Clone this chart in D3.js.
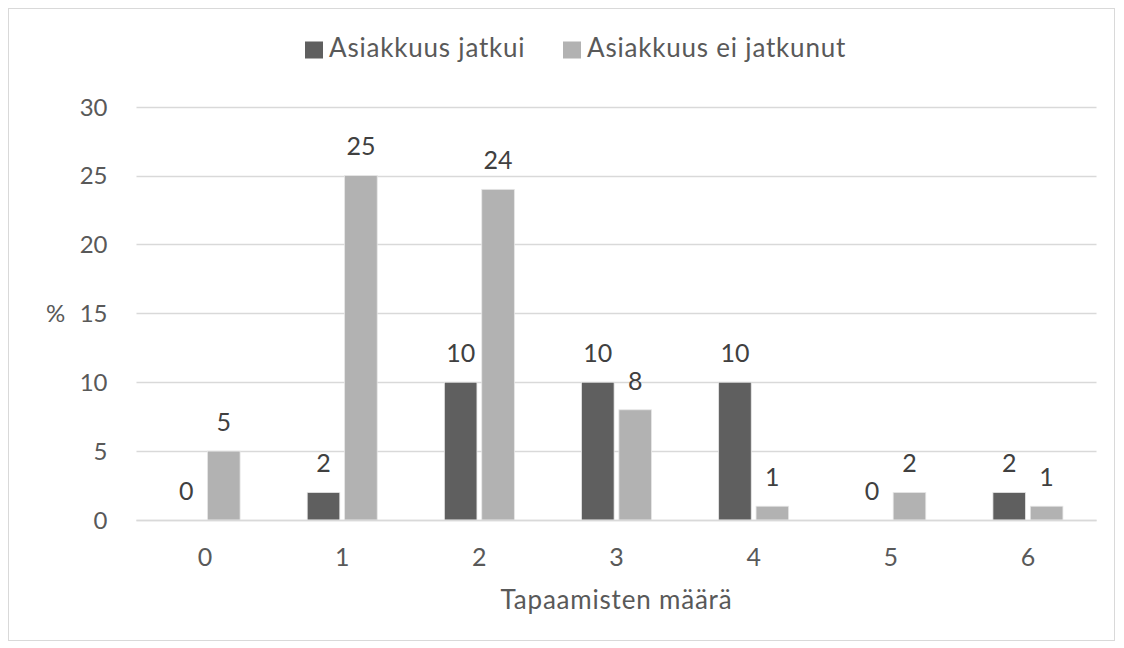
<!DOCTYPE html>
<html>
<head>
<meta charset="utf-8">
<script src="https://cdn.jsdelivr.net/npm/d3@7"></script>
<style>
  body { margin: 0; background: #fff; }
  text { font-family: Lato, "Open Sans", sans-serif; fill: #595959; }
</style>
</head>
<body>
<svg id="chart"></svg>
<script>
// data
var categories = ["0", "1", "2", "3", "4", "5", "6"];
var jatkui = [0, 2, 10, 10, 10, 0, 2];
var eiJatkunut = [5, 25, 24, 8, 1, 2, 1];
var seriesNames = ["Asiakkuus jatkui", "Asiakkuus ei jatkunut"];
var yTicks = [0, 5, 10, 15, 20, 25, 30];

var width = 1124, height = 648;
var margin = {left: 136.5, right: 1124 - 1096.5, top: 106.7, bottom: 648 - 520};
var colors = ["#5f5f5f", "#b2b2b2"];

var svg = d3.select("#chart")
    .attr("width", width)
    .attr("height", height);

// outer frame
svg.append("rect")
    .attr("x", 8.5).attr("y", 8.5)
    .attr("width", 1106).attr("height", 632)
    .attr("fill", "none")
    .attr("stroke", "#d9d9d9");

var x = d3.scaleBand()
    .domain(categories)
    .range([margin.left, width - margin.right]);

var y = d3.scaleLinear()
    .domain([0, 30])
    .range([height - margin.bottom, margin.top]);

var barW = 30.5, gap = 9;
var inner = d3.scaleBand()
    .domain([0, 1])
    .range([-(barW + gap / 2), barW + gap / 2])
    .paddingInner(gap / (2 * barW + gap));

// gridlines
svg.append("g")
    .selectAll("line")
    .data(yTicks).enter()
    .append("line")
    .attr("x1", margin.left)
    .attr("x2", width - margin.right)
    .attr("y1", function(d) { return Math.round(y(d)) + 0.5; })
    .attr("y2", function(d) { return Math.round(y(d)) + 0.5; })
    .attr("stroke", "#d9d9d9")
    .attr("stroke-width", 1.5);

// y axis labels
var yAxis = d3.axisLeft(y).tickValues(yTicks).tickSize(0).tickPadding(0);
var yg = svg.append("g")
    .attr("transform", "translate(" + (margin.left - 29) + ",0)")
    .call(yAxis);
yg.select(".domain").remove();
yg.selectAll("text")
    .style("font-size", "24px")
    .attr("text-anchor", "end")
    .attr("dy", "0.35em");

// x axis labels
var xAxis = d3.axisBottom(x).tickSize(0).tickPadding(0);
var xg = svg.append("g")
    .attr("transform", "translate(0," + (height - margin.bottom + 37) + ")")
    .call(xAxis);
xg.select(".domain").remove();
xg.selectAll("text")
    .style("font-size", "25px")
    .attr("dy", "0.35em")
    .attr("y", 0);

var series = [jatkui, eiJatkunut];

series.forEach(function(vals, s) {
  var grp = svg.append("g");
  grp.selectAll("rect")
    .data(vals).enter()
    .append("rect")
    .attr("x", function(d, i) { return x(categories[i]) + x.bandwidth() / 2 + inner(s); })
    .attr("y", function(d) { return y(d); })
    .attr("width", inner.bandwidth())
    .attr("height", function(d) { return y(0) - y(d); })
    .attr("fill", colors[s])
    .attr("stroke", function(d) { return d > 0 ? "#e6e6e6" : "none"; })
    .attr("stroke-width", 0.8);

  grp.selectAll("text")
    .data(vals).enter()
    .append("text")
    .attr("x", function(d, i) { return x(categories[i]) + x.bandwidth() / 2 + inner(s) + inner.bandwidth() / 2; })
    .attr("y", function(d) { return y(d) - 29; })
    .attr("dy", "0.35em")
    .attr("text-anchor", "middle")
    .style("font-size", "25px")
    .style("fill", "#404040")
    .text(function(d) { return d; });
});

// axis line on top of bars
svg.append("line")
    .attr("x1", margin.left)
    .attr("x2", width - margin.right)
    .attr("y1", Math.round(y(0)) + 0.5)
    .attr("y2", Math.round(y(0)) + 0.5)
    .attr("stroke", "#d9d9d9")
    .attr("stroke-width", 1.5);

// "%" axis title
svg.append("text")
    .attr("x", 55.5).attr("y", y(15))
    .attr("dy", "0.35em")
    .attr("text-anchor", "middle")
    .style("font-size", "24px")
    .text("%");

// x axis title
svg.append("text")
    .attr("x", (margin.left + width - margin.right) / 2)
    .attr("y", 609)
    .attr("text-anchor", "middle")
    .style("font-size", "26px")
    .style("letter-spacing", "0.8px")
    .text("Tapaamisten määrä");

// legend
var legendX = [305, 563];
var legend = svg.append("g");
seriesNames.forEach(function(name, s) {
  legend.append("rect")
    .attr("x", legendX[s]).attr("y", 41.5)
    .attr("width", 18).attr("height", 17)
    .attr("fill", colors[s]);
  legend.append("text")
    .attr("x", legendX[s] + 24).attr("y", 57)
    .style("font-size", "26px")
    .style("letter-spacing", "0.8px")
    .text(name);
});
</script>
</body>
</html>
